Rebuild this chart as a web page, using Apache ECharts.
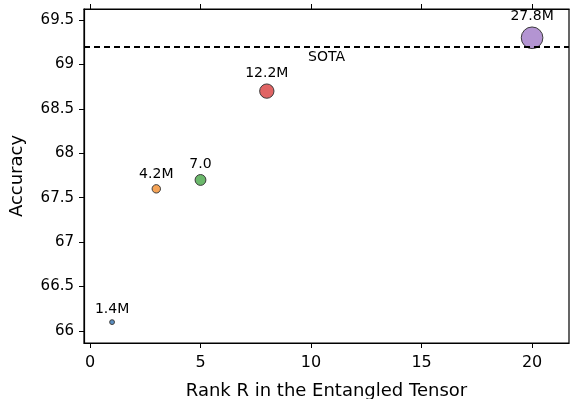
<!DOCTYPE html>
<html>
<head>
<meta charset="utf-8">
<script src="https://cdn.jsdelivr.net/npm/echarts@6/dist/echarts.min.js"></script>
<style>
  html, body { margin: 0; padding: 0; background: #fff; }
  #chart { width: 571px; height: 399px; }
</style>
</head>
<body>
<div id="chart"></div>
<script>
const ranks = [1, 3, 5, 8, 20];
const accuracy = [66.1, 67.6, 67.7, 68.7, 69.3];
const params = [1.4, 4.2, 7.0, 12.2, 27.8];
const paramLabels = ['1.4M', '4.2M', '7.0', '12.2M', '27.8M'];
const xTicks = [0, 5, 10, 15, 20];
const yTicks = [66, 66.5, 67, 67.5, 68, 68.5, 69, 69.5];
const sotaValue = 69.2;

const colors = ['#5b8fc2', '#f5a356', '#6bb86b', '#e06464', '#b394d2'];
const font = 'DejaVu Sans';

const myChart = echarts.init(document.getElementById('chart'));

const option = {
  animation: false,
  grid: {
    left: 84, right: 2, top: 9, bottom: 56,
    outerBoundsMode: 'none', containLabel: false,
    show: true, borderColor: '#000', borderWidth: 1.2
  },
  xAxis: [
    {
      type: 'value', min: -0.27, max: 21.67,
      name: 'Rank R in the Entangled Tensor', nameLocation: 'middle', nameGap: 39,
      nameTextStyle: { fontFamily: font, fontSize: 18, color: '#000' },
      axisLine: { show: true, onZero: false, lineStyle: { color: '#000', width: 1.2 } },
      axisTick: { show: true, length: 5, customValues: xTicks, lineStyle: { color: '#000' } },
      axisLabel: { customValues: xTicks, fontFamily: font, fontSize: 16, color: '#000', margin: 12 },
      splitLine: { show: false }
    },
    {
      type: 'value', position: 'top', min: -0.27, max: 21.67,
      axisLine: { show: true, onZero: false, lineStyle: { color: '#000', width: 1.2 } },
      axisTick: { show: true, length: 5, customValues: xTicks, lineStyle: { color: '#000' } },
      axisLabel: { show: false },
      splitLine: { show: false }
    }
  ],
  yAxis: {
    type: 'value', min: 65.865, max: 69.624,
    name: 'Accuracy', nameLocation: 'middle', nameGap: 58,
    nameTextStyle: { fontFamily: font, fontSize: 18, color: '#000' },
    axisLine: { show: true, onZero: false, lineStyle: { color: '#000', width: 1.2 } },
    axisTick: { show: true, length: 5, customValues: yTicks, lineStyle: { color: '#000' } },
    axisLabel: { customValues: yTicks, fontFamily: font, fontSize: 15, color: '#000', margin: 10 },
    splitLine: { show: false }
  },
  series: [
    {
      type: 'scatter',
      xAxisIndex: 0,
      data: ranks.map((r, i) => ({
        value: [r, accuracy[i]],
        symbolSize: 4.1 * Math.sqrt(params[i]),
        itemStyle: { color: colors[i] },
        label: { formatter: paramLabels[i] }
      })),
      itemStyle: { borderColor: '#3a3a3a', borderWidth: 1, opacity: 1 },
      label: {
        show: true, position: 'top', distance: 3,
        fontFamily: font, fontSize: 14, color: '#000'
      },
      markLine: {
        silent: true, symbol: 'none',
        lineStyle: { color: '#000', type: [6, 4], width: 1.8 },
        label: {
          show: true, position: 'insideMiddleBottom', formatter: 'SOTA',
          fontFamily: font, fontSize: 14, color: '#000', distance: 4
        },
        data: [{ yAxis: sotaValue }]
      }
    }
  ]
};

myChart.setOption(option);
</script>
</body>
</html>
